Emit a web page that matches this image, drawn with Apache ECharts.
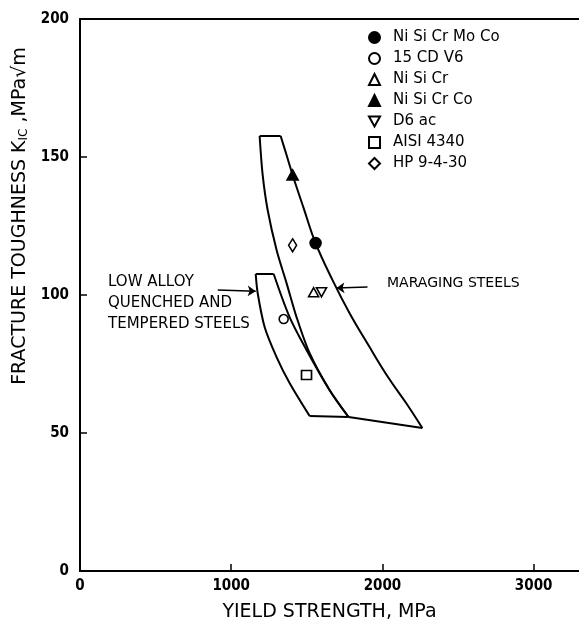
<!DOCTYPE html>
<html>
<head>
<meta charset="utf-8">
<script src="https://cdn.jsdelivr.net/npm/echarts@6/dist/echarts.min.js"></script>
<style>
  html, body { margin: 0; padding: 0; background: #fff; }
  #chart { width: 579px; height: 635px; }
</style>
</head>
<body>
<div id="chart"></div>
<script>
// region outlines, [yield strength MPa, K_IC MPa sqrt(m)]
var maragingTop = [[1188, 157.6], [1327, 157.6]];
var maragingRight = [[1327, 157.6], [1366, 150.7], [1406, 143.5], [1479, 131.5], [1558, 118.8],
  [1670, 105.4], [1782, 93.5], [1912, 81.4], [2040, 70.0], [2160, 60.6], [2264, 51.8]];
var maragingBottom = [[2264, 51.8], [1776, 55.8]];
var maragingLeft = [[1776, 55.8], [1650, 65.6], [1518, 79.0], [1432, 92.0], [1366, 104.3],
  [1300, 116.3], [1241, 130.8], [1208, 143.5], [1188, 157.6]];

var lowTop = [[1162, 107.6], [1281, 107.6]];
var lowRight = [[1281, 107.6], [1386, 92.0], [1498, 80.1], [1650, 65.6], [1776, 55.8]];
var lowBottom = [[1776, 55.8], [1518, 56.2]];
var lowLeft = [[1518, 56.2], [1386, 68.1], [1300, 77.5], [1221, 88.4], [1175, 100.7], [1162, 107.6]];

// alloys
var alloyNames = ['Ni Si Cr Mo Co', '15 CD V6', 'Ni Si Cr', 'Ni Si Cr Co', 'D6 ac', 'AISI 4340', 'HP 9-4-30'];
var alloyPoints = [[1558, 118.8], [1347, 91.3], [1545, 101.0], [1406, 143.5], [1597, 101.0], [1498, 71.0], [1406, 118.0]];

// annotation arrows
var lowArrow = [[911, 101.8], [1162, 101.4]];
var maragingArrow = [[1901, 102.9], [1696, 102.5]];

var xTicks = [0, 3300, 1000];
var yTicks = [0, 200, 50];

var NARROW = '"DejaVu Sans Condensed", "DejaVu Sans", sans-serif';
var WIDE = '"DejaVu Sans", sans-serif';

var chart = echarts.init(document.getElementById('chart'));

function edge(data, smooth) {
  return {
    type: 'line', data: data, smooth: smooth, symbol: 'none', silent: true,
    lineStyle: { color: '#000', width: 2 }, z: 2
  };
}

var styles = [
  { symbol: 'circle', size: 11, fill: '#000' },
  { symbol: 'circle', size: 9, fill: '#fff' },
  { symbol: 'triangle', size: [10, 9], fill: '#fff' },
  { symbol: 'triangle', size: [11, 10], fill: '#000' },
  { symbol: 'path://M0,0L10,0L5,9Z', size: [10, 9], fill: '#fff' },
  { symbol: 'rect', size: [10, 9], fill: '#fff' },
  { symbol: 'diamond', size: [8, 13], fill: '#fff' }
];

var series = [
  edge(maragingTop, false), edge(maragingRight, 0.4), edge(maragingBottom, false), edge(maragingLeft, 0.3),
  edge(lowTop, false), edge(lowRight, 0.3), edge(lowBottom, false), edge(lowLeft, 0.3)
];

alloyNames.forEach(function (name, i) {
  var s = styles[i];
  series.push({
    name: name, type: 'scatter', data: [alloyPoints[i]],
    symbol: s.symbol, symbolSize: s.size,
    itemStyle: { color: s.fill, borderColor: '#000', borderWidth: 1.6, opacity: 1 },
    z: 5
  });
});

series.push({
  type: 'line', data: [], silent: true,
  markLine: {
    silent: true, symbol: ['none', 'arrow'], symbolSize: 8,
    lineStyle: { color: '#000', width: 1.5, type: 'solid' },
    label: { show: false },
    data: [
      [{ coord: lowArrow[0] }, { coord: lowArrow[1] }],
      [{ coord: maragingArrow[0] }, { coord: maragingArrow[1] }]
    ]
  }
});

chart.setOption({
  animation: false,
  backgroundColor: '#fff',
  textStyle: { fontFamily: WIDE, color: '#000' },
  grid: { left: 80, top: 19, width: 504, height: 552 },
  legend: {
    data: alloyNames, orient: 'vertical', left: 363, top: 25,
    itemWidth: 11, itemHeight: 11, itemGap: 6,
    textStyle: { fontFamily: WIDE, fontSize: 15, color: '#000', padding: [0, 0, 0, 8] }
  },
  xAxis: [{
    type: 'value', min: xTicks[0], max: xTicks[1], interval: xTicks[2],
    name: 'YIELD STRENGTH, MPa', nameLocation: 'middle', nameGap: 32,
    nameTextStyle: { fontFamily: WIDE, fontSize: 19, color: '#000' },
    axisLine: { lineStyle: { color: '#000', width: 2 } },
    axisTick: { inside: true, length: 7, lineStyle: { color: '#000', width: 1.5 } },
    axisLabel: {
      color: '#000', fontFamily: NARROW, fontSize: 15, fontWeight: 'bold', margin: 8, showMaxLabel: false,
      formatter: function (v) { return String(v); }
    },
    splitLine: { show: false }
  }, {
    type: 'value', position: 'top', min: xTicks[0], max: xTicks[1],
    axisLine: { show: true, lineStyle: { color: '#000', width: 2 } },
    axisTick: { show: false }, axisLabel: { show: false }, splitLine: { show: false }
  }],
  yAxis: {
    type: 'value', min: yTicks[0], max: yTicks[1], interval: yTicks[2],
    name: 'FRACTURE TOUGHNESS K{s|IC} ,MPa√m', nameLocation: 'middle', nameGap: 44,
    nameTextStyle: {
      fontFamily: WIDE, fontSize: 19, color: '#000', padding: [0, 0, 0, 158],
      rich: { s: { fontFamily: WIDE, fontSize: 12, color: '#000', verticalAlign: 'bottom', padding: [8, 0, 0, 0] } }
    },
    axisLine: { lineStyle: { color: '#000', width: 2 } },
    axisTick: { inside: true, length: 7, lineStyle: { color: '#000', width: 1.5 } },
    axisLabel: {
      color: '#000', fontFamily: NARROW, fontSize: 15, fontWeight: 'bold', margin: 11,
      formatter: function (v) { return String(v); }
    },
    splitLine: { show: false }
  },
  graphic: [
    {
      type: 'text', left: 108, top: 272, silent: true,
      style: { text: 'LOW ALLOY\nQUENCHED AND\nTEMPERED STEELS', font: '15px ' + WIDE, fill: '#000', lineHeight: 21 }
    },
    {
      type: 'text', left: 387, top: 276, silent: true,
      style: { text: 'MARAGING STEELS', font: '14px ' + WIDE, fill: '#000' }
    }
  ],
  series: series
});
</script>
</body>
</html>
